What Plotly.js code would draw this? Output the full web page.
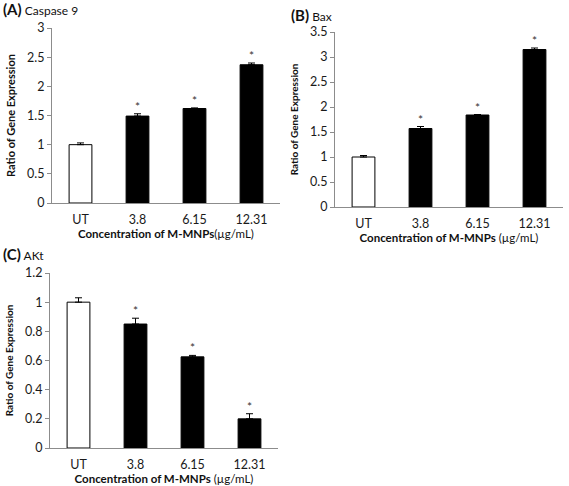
<!DOCTYPE html>
<html>
<head>
<meta charset="utf-8">
<script src="https://cdn.plot.ly/plotly-3.0.1.min.js"></script>
<style>
html,body{margin:0;padding:0;background:#fff;}
#chart{width:569px;height:486px;}
</style>
</head>
<body>
<div id="chart"></div>
<script>
const categories = ['UT', '3.8', '6.15', '12.31'];
const caspase9 = [1.0, 1.49, 1.62, 2.37];
const caspase9Err = [0.03, 0.04, 0.01, 0.03];
const bax = [1.0, 1.57, 1.84, 3.15];
const baxErr = [0.03, 0.04, 0.01, 0.03];
const akt = [1.0, 0.85, 0.625, 0.2];
const aktErr = [0.03, 0.04, 0.01, 0.035];
const marks = ['', '*', '*', '*'];
const panelLabels = ['(A)', '(B)', '(C)'];
const geneNames = ['Caspase 9', 'Bax', 'AKt'];
const yTitle = 'Ratio of Gene Expression';
const xTitleBold = 'Concentration of M-MNPs';
const xTitleUnits = ['(µg/mL)', ' (µg/mL)', ' (µg/mL)'];

const FONT = 'Lato, "Open Sans", sans-serif';
const barColors = ['#ffffff', '#000000', '#000000', '#000000'];

function barTrace(vals, errs, xa, ya) {
  return {
    type: 'bar', x: categories, y: vals, xaxis: xa, yaxis: ya,
    marker: {color: barColors, line: {color: '#000', width: 1}},
    error_y: {type: 'data', symmetric: false, array: errs,
              arrayminus: errs.map(() => 0), color: '#000', thickness: 1, width: 3.5},
    showlegend: false, hoverinfo: 'skip'
  };
}
function starTrace(vals, errs, xa, ya) {
  return {
    type: 'scatter', mode: 'text', x: categories,
    y: vals.map((v, i) => v + errs[i]), text: marks,
    textposition: 'top center', textfont: {family: FONT, size: 12, color: '#333'},
    xaxis: xa, yaxis: ya, showlegend: false, hoverinfo: 'skip', cliponaxis: false
  };
}

const data = [
  barTrace(caspase9, caspase9Err, 'x', 'y'), starTrace(caspase9, caspase9Err, 'x', 'y'),
  barTrace(bax, baxErr, 'x2', 'y2'), starTrace(bax, baxErr, 'x2', 'y2'),
  barTrace(akt, aktErr, 'x3', 'y3'), starTrace(akt, aktErr, 'x3', 'y3')
];

function xAxis(domain, anchor, unit) {
  return {
    domain: domain, anchor: anchor, type: 'category',
    showline: true, linecolor: '#8c8c8c', linewidth: 1,
    ticks: 'outside', ticklen: 5, tickcolor: 'rgba(0,0,0,0)',
    showgrid: false, zeroline: false, fixedrange: true,
    tickfont: {family: FONT, size: 12.5, color: '#1a1a1a'},
    title: {text: '<b>' + xTitleBold + '</b>' + unit, standoff: 1,
            font: {family: FONT, size: 11.5, color: '#111'}}
  };
}
function yAxis(domain, anchor, range, dtick, tsize) {
  return {
    domain: domain, anchor: anchor, range: range, dtick: dtick,
    showline: true, linecolor: '#8c8c8c', linewidth: 1,
    ticks: 'outside', ticklen: 4, tickcolor: '#8c8c8c',
    showgrid: false, zeroline: false, fixedrange: true,
    tickfont: {family: FONT, size: 12.5, color: '#1a1a1a'},
    title: {text: '<b>' + yTitle + '</b>', standoff: 9,
            font: {family: FONT, size: tsize, color: '#111'}}
  };
}

const W = 569, H = 486;
const px = (a, b) => [a / W, b / W];
const py = (bottom, top) => [1 - bottom / H, 1 - top / H];

function label(i, xp, yp) {
  return {
    xref: 'paper', yref: 'paper', x: xp / W, y: 1 - yp / H,
    xanchor: 'left', yanchor: 'middle', showarrow: false,
    text: '<b>' + panelLabels[i] + '</b><span style="font-size:12px"> ' + geneNames[i] + '</span>',
    font: {family: FONT, size: 15, color: '#111'}
  };
}

const layout = {
  width: W, height: H,
  margin: {l: 0, r: 0, t: 0, b: 0},
  paper_bgcolor: '#fff', plot_bgcolor: '#fff',
  bargap: 0.6,
  xaxis: xAxis(px(52, 280), 'y', xTitleUnits[0]),
  yaxis: yAxis(py(203, 28), 'x', [0, 3], 0.5, 11),
  xaxis2: xAxis(px(335, 563), 'y2', xTitleUnits[1]),
  yaxis2: yAxis(py(207, 32), 'x2', [0, 3.5], 0.5, 10),
  xaxis3: xAxis(px(50, 278), 'y3', xTitleUnits[2]),
  yaxis3: yAxis(py(448, 273), 'x3', [0, 1.2], 0.2, 10),
  annotations: [label(0, 1, 9), label(1, 289, 15), label(2, 1, 254)]
};

Plotly.newPlot('chart', data, layout, {displayModeBar: false, staticPlot: true});
</script>
</body>
</html>
